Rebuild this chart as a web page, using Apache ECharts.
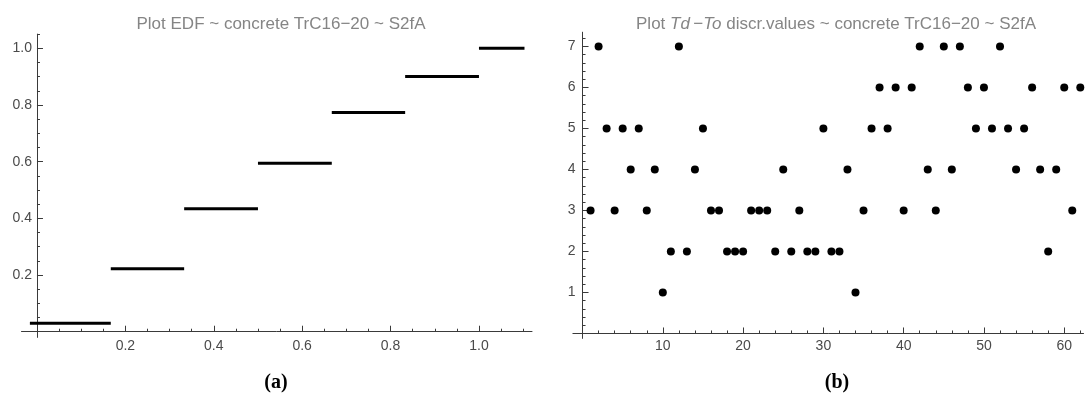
<!DOCTYPE html>
<html><head><meta charset="utf-8">
<script src="https://cdn.jsdelivr.net/npm/echarts@6/dist/echarts.min.js"></script>
<style>html,body{margin:0;padding:0;background:#fff}#c{width:1086px;height:394px}</style>
</head><body><div id="c"></div>
<script>
// ---- Panel (a): EDF step function ----
const edfStarts = [-0.016, 0.167, 0.333, 0.5, 0.667, 0.833, 1.0];
const edfEnds   = [0.167, 0.333, 0.5, 0.667, 0.833, 1.0, 1.103];
const edfValues = [0.03, 0.222, 0.434, 0.594, 0.773, 0.90, 1.0];
const edfXTicks = [0.2, 0.4, 0.6, 0.8, 1.0];
const edfYTicks = [0.2, 0.4, 0.6, 0.8, 1.0];

// ---- Panel (b): Td-To discrete values ----
const tdIndex = [1,2,3,4,5,6,7,8,9,10,11,12,13,14,15,16,17,18,19,20,21,22,23,24,25,26,27,28,29,30,31,32,33,34,35,36,37,38,39,40,41,42,43,44,45,46,47,48,49,50,51,52,53,54,55,56,57,58,59,60,61,62];
const tdValues = [3,7,5,3,5,4,5,3,4,1, 2,7,2,4,5,3,3,2,2,2, 3,3,3,2,4,2,3,2,2,5, 2,2,4,1,3,5,6,5,6,3, 6,7,4,3,7,4,7,6,5,6, 5,7,5,4,5,6,4,2,4,6, 3,6];
const tdXTicks = [10, 20, 30, 40, 50, 60];
const tdYTicks = [1, 2, 3, 4, 5, 6, 7];

const titleA = 'Plot EDF ~ concrete TrC16\u221220 ~ S2fA';
const titleB = 'Plot {i|Td}{n|\u2009\u2212}{i|To} discr.values ~ concrete TrC16\u221220 ~ S2fA';

// minor tick positions (axis decoration only)
function minorTicks(step, from, to, majorEvery) {
  const out = [];
  for (let k = Math.round(from / step); k * step <= to + 1e-9; k++) {
    if (k % majorEvery !== 0) out.push(+(k * step).toFixed(4));
  }
  return out;
}
const edfXMinor = minorTicks(0.05, 0.05, 1.1, 4);
const edfYMinor = minorTicks(0.05, 0.05, 1.05, 4);
const tdXMinor = minorTicks(2, 2, 62, 5);
const tdYMinor = minorTicks(0.2, 0.2, 7.2, 5);

const AX = '#3a3a3a';
const LBL = '#4a4a4a';
const FONT = 'Liberation Sans';
const W = 1086, H = 394;

// layout of the two plot areas
const gridA = { left: 21.5, right: 554, top: 34.1, bottom: 56.6 };
const gridB = { left: 572.9, right: 2.5, top: 32.2, bottom: 55.6 };
const rangeA = { x: [-0.035, 1.12], y: [-0.02, 1.05] };
const rangeB = { x: [-1.2, 62.4], y: [-0.12, 7.35] };

// pixel distance between the grid edge and the value-0 crossing
function zeroShift(g, r, dim) {
  if (dim === 'x') {
    const h = H - g.top - g.bottom;
    return (0 - r.y[0]) / (r.y[1] - r.y[0]) * h;
  } else {
    const w = W - g.left - g.right;
    return (0 - r.x[0]) / (r.x[1] - r.x[0]) * w;
  }
}

function mainAxis(dim, grid, g, r, ticks, fmt, margin, zeroIdx) {
  return {
    type: 'value', gridIndex: grid, min: r[dim][0], max: r[dim][1],
    position: dim === 'x' ? 'bottom' : 'left',
    axisLine: { show: true, onZero: true, onZeroAxisIndex: zeroIdx, lineStyle: { color: AX, width: 1 } },
    axisTick: { show: true, inside: true, length: 6, customValues: ticks, lineStyle: { color: AX, width: 1 } },
    axisLabel: { show: true, customValues: ticks, formatter: fmt, color: LBL, fontFamily: FONT, fontSize: 14,
                 margin: margin - zeroShift(g, r, dim) },
    splitLine: { show: false }
  };
}
function minorAxis(dim, grid, g, r, ticks, zeroIdx) {
  return {
    type: 'value', gridIndex: grid, min: r[dim][0], max: r[dim][1],
    position: dim === 'x' ? 'bottom' : 'left',
    axisLine: { show: false, onZero: true, onZeroAxisIndex: zeroIdx },
    axisTick: { show: true, inside: true, length: 3, customValues: ticks, lineStyle: { color: AX, width: 1 } },
    axisLabel: { show: false },
    splitLine: { show: false }
  };
}

const fmt1 = v => v.toFixed(1);
const fmt0 = v => String(Math.round(v));

const series = edfValues.map((v, i) => ({
  type: 'line', xAxisIndex: 0, yAxisIndex: 0,
  data: [[edfStarts[i], v], [edfEnds[i], v]],
  symbol: 'none', silent: true,
  lineStyle: { color: '#000', width: 3 }
}));
series.push({
  type: 'scatter', xAxisIndex: 2, yAxisIndex: 2,
  data: tdIndex.map((x, i) => [x, tdValues[i]]),
  symbol: 'circle', symbolSize: 8,
  itemStyle: { color: '#000', opacity: 1 }, silent: true
});

const titleStyle = { fontFamily: FONT, fontSize: 17, fontWeight: 'normal', color: '#858585' };

const option = {
  animation: false,
  backgroundColor: '#fff',
  title: [
    { text: titleA, left: 276, top: 11, textAlign: 'center', textStyle: titleStyle },
    { text: titleB, left: 831, top: 11, textAlign: 'center',
      textStyle: Object.assign({}, titleStyle, {
        rich: {
          i: { fontFamily: FONT, fontSize: 17, fontStyle: 'italic', color: '#858585' },
          n: { fontFamily: FONT, fontSize: 17, color: '#858585' }
        }
      }) },
    { text: '(a)', left: 271, top: 368, textAlign: 'center',
      textStyle: { fontFamily: 'Liberation Serif', fontWeight: 'bold', fontSize: 20, color: '#000' } },
    { text: '(b)', left: 832, top: 368, textAlign: 'center',
      textStyle: { fontFamily: 'Liberation Serif', fontWeight: 'bold', fontSize: 20, color: '#000' } }
  ],
  grid: [
    Object.assign({ containLabel: false, outerBoundsMode: 'none' }, gridA),
    Object.assign({ containLabel: false, outerBoundsMode: 'none' }, gridB)
  ],
  xAxis: [
    mainAxis('x', 0, gridA, rangeA, edfXTicks, fmt1, 7, 0),
    minorAxis('x', 0, gridA, rangeA, edfXMinor, 0),
    mainAxis('x', 1, gridB, rangeB, tdXTicks, fmt0, 6, 2),
    minorAxis('x', 1, gridB, rangeB, tdXMinor, 2)
  ],
  yAxis: [
    mainAxis('y', 0, gridA, rangeA, edfYTicks, fmt1, 5, 0),
    minorAxis('y', 0, gridA, rangeA, edfYMinor, 0),
    mainAxis('y', 1, gridB, rangeB, tdYTicks, fmt0, 7, 2),
    minorAxis('y', 1, gridB, rangeB, tdYMinor, 2)
  ],
  series: series
};

const chart = echarts.init(document.getElementById('c'), null, { renderer: 'canvas' });
chart.setOption(option);
</script>
</body></html>
